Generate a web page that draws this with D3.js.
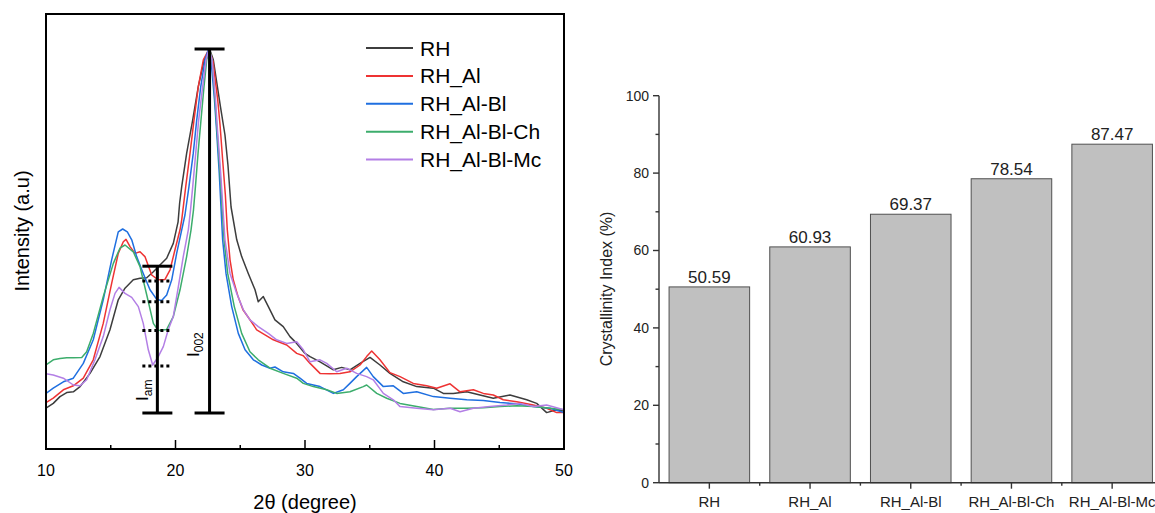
<!DOCTYPE html>
<html><head><meta charset="utf-8">
<script src="https://cdn.jsdelivr.net/npm/d3@7"></script>
<style>body{margin:0;background:#fff} svg{display:block} text{font-family:"Liberation Sans",Arial,Helvetica,sans-serif}</style>
</head><body><svg id="c" width="1155" height="513"></svg>
<script>
// ---------- XRD data (2θ, intensity a.u.) ----------
const seriesNames = ["RH","RH_Al","RH_Al-Bl","RH_Al-Bl-Ch","RH_Al-Bl-Mc"];
const seriesColors = ["#3d3d3d","#ee3333","#1f6fe0","#3cad6c","#b37fe5"];

const rh = [[10.00,10.2],[10.56,11.4],[11.08,13.1],[11.60,14.1],[12.11,14.3],[12.63,15.6],[13.40,18.9],[14.17,23.1],[14.94,29.8],[15.58,37.3],[16.10,40.2],[16.74,42.3],[17.26,42.7],[17.78,42.8],[18.29,44.3],[18.80,46.0],[19.32,47.7],[19.83,51.4],[20.20,56.8],[20.32,61.5],[20.48,65.6],[20.86,73.9],[21.33,82.3],[21.76,90.6],[22.22,97.3],[22.63,100],[22.92,97.3],[23.47,85.6],[23.82,78.5],[24.05,71.0],[24.29,60.5],[24.73,52.3],[25.11,48.1],[25.62,43.9],[26.14,39.8],[26.39,36.8],[26.78,38.1],[27.17,35.6],[27.68,32.3],[28.32,30.6],[28.84,28.1],[29.36,26.4],[30.00,23.9],[30.39,23.1],[31.16,21.8],[32.19,19.8],[32.83,20.4],[33.47,19.8],[34.25,21.4],[35.02,22.9],[35.79,21.0],[36.56,18.9],[37.59,16.8],[38.63,15.6],[39.91,15.2],[40.68,13.9],[41.45,13.9],[42.49,14.3],[43.51,13.5],[44.54,12.7],[45.83,13.5],[47.12,12.3],[47.89,11.4],[48.66,9.1],[49.44,9.8],[50.00,9.5]];

const rhAl = [[10.00,11.6],[10.56,12.7],[11.34,14.8],[12.11,15.8],[12.88,17.7],[13.65,22.3],[14.42,31.4],[15.07,41.4],[15.58,48.9],[15.97,51.8],[16.18,52.4],[16.49,50.6],[16.87,48.9],[17.26,49.3],[17.64,48.1],[18.16,43.5],[18.67,42.3],[19.19,42.4],[19.58,44.8],[19.96,49.8],[20.35,54.8],[20.48,57.3],[20.79,65.6],[21.12,73.9],[21.43,82.3],[21.76,90.6],[22.15,97.3],[22.59,100],[22.90,96.8],[23.26,87.3],[23.44,81.0],[23.64,72.3],[23.85,63.5],[24.00,54.8],[24.21,47.3],[24.46,42.3],[24.83,38.1],[25.21,34.8],[25.75,32.3],[26.27,29.8],[27.04,28.3],[27.55,27.3],[28.59,26.0],[29.36,23.9],[29.87,23.3],[30.39,21.4],[31.16,18.9],[31.93,18.8],[32.70,18.9],[33.47,19.3],[34.25,21.0],[34.76,23.1],[35.15,24.5],[35.79,22.3],[36.56,19.1],[37.34,18.1],[38.36,16.4],[39.40,15.8],[40.17,15.2],[41.20,16.3],[41.97,14.3],[43.00,14.8],[43.77,13.9],[44.54,13.5],[45.31,12.3],[46.35,11.8],[47.63,11.0],[48.66,10.2],[49.44,9.1],[50.00,9.1]];

const rhAlBl = [[10.00,13.9],[10.56,15.2],[11.34,16.8],[12.11,17.7],[12.88,21.4],[13.65,27.3],[14.42,37.3],[15.07,47.3],[15.58,54.3],[15.92,55.0],[16.28,54.3],[16.62,52.3],[17.00,48.1],[17.51,43.9],[18.03,39.8],[18.55,37.4],[18.93,37.1],[19.32,38.5],[19.71,42.3],[20.09,48.9],[20.48,54.8],[20.73,58.5],[21.04,65.6],[21.37,73.9],[21.64,82.3],[21.95,90.6],[22.28,97.3],[22.55,100],[22.74,97.3],[23.01,87.3],[23.17,79.8],[23.38,68.9],[23.64,52.3],[23.90,43.9],[24.34,35.6],[24.85,28.9],[25.37,24.8],[26.01,22.3],[26.66,21.0],[27.30,20.2],[27.68,20.5],[28.32,19.3],[29.10,18.9],[29.61,17.7],[30.13,16.4],[31.16,15.6],[32.19,13.9],[32.96,14.8],[33.47,16.4],[33.99,18.1],[34.76,20.4],[35.27,18.1],[36.05,15.6],[36.82,15.8],[37.59,13.9],[38.63,14.3],[39.91,13.1],[41.20,12.7],[42.49,12.3],[43.77,12.1],[45.06,11.6],[46.35,11.3],[47.63,10.6],[48.92,10.2],[50.00,9.1]];

const rhAlBlCh = [[10.00,21.0],[10.56,22.3],[11.08,22.6],[11.60,22.8],[12.11,22.8],[12.76,22.9],[13.14,24.3],[13.65,28.9],[14.42,38.1],[15.20,46.4],[15.71,50.2],[16.10,51.0],[16.74,49.3],[17.26,45.6],[17.78,38.5],[18.29,31.4],[18.67,29.6],[19.32,29.9],[19.83,33.1],[20.35,39.8],[20.86,48.1],[21.20,54.8],[21.39,59.8],[21.54,65.6],[21.74,73.9],[21.97,82.3],[22.20,90.6],[22.41,97.3],[22.63,100],[22.82,97.3],[23.05,87.3],[23.18,81.0],[23.44,68.9],[23.75,52.3],[24.03,43.9],[24.54,35.6],[25.11,28.9],[25.75,24.3],[26.39,22.3],[27.30,20.2],[28.32,18.9],[29.36,17.7],[29.87,16.4],[30.64,15.6],[31.68,14.8],[32.45,13.9],[33.47,14.3],[34.50,15.6],[34.76,16.0],[35.54,13.9],[36.31,12.7],[37.34,11.4],[38.63,10.6],[39.91,9.9],[41.20,10.2],[42.49,10.2],[43.77,10.3],[45.06,10.6],[46.35,10.8],[47.63,10.6],[48.92,10.2],[50.00,9.8]];

const rhAlBlMc = [[10.00,18.8],[10.56,18.5],[11.34,17.7],[12.11,16.0],[12.63,15.8],[13.14,17.3],[13.78,22.3],[14.42,28.1],[14.94,34.8],[15.33,38.9],[15.64,40.4],[16.10,38.9],[16.62,37.9],[17.13,35.6],[17.51,31.4],[17.90,24.8],[18.24,21.0],[18.67,23.1],[19.06,25.6],[19.44,29.8],[19.83,33.1],[20.22,40.6],[20.60,48.1],[20.99,54.8],[21.16,59.8],[21.33,65.6],[21.56,73.9],[21.79,82.3],[22.10,90.6],[22.36,97.3],[22.59,100],[22.82,97.3],[23.09,87.3],[23.24,79.8],[23.49,68.9],[23.82,52.3],[24.21,43.9],[24.73,38.9],[25.24,34.8],[25.75,32.3],[26.39,30.6],[27.17,28.9],[27.81,27.3],[28.59,26.4],[29.36,26.8],[29.87,24.8],[30.39,21.8],[31.16,22.3],[31.68,21.4],[32.45,19.3],[33.22,20.2],[33.99,18.9],[34.76,18.1],[35.27,17.3],[36.05,13.9],[36.82,12.3],[37.34,10.6],[38.63,10.2],[39.91,9.8],[41.20,10.2],[41.97,9.3],[43.00,10.2],[44.29,10.6],[45.58,11.0],[46.60,11.4],[47.63,10.6],[48.66,11.0],[50.00,9.8]];

const xrdSeries = [rh, rhAl, rhAlBl, rhAlBlCh, rhAlBlMc];
const xMajorTicks = [10,20,30,40,50];
const xMinorTicks = [15,25,35,45];
// annotation levels (a.u.)
const i002Pos = 22.63, i002Top = 100, i002Bottom = 9;
const iamPos = 18.6, iamTop = 45.7, iamLevels = [42.0, 36.8, 29.6, 20.75];

// ---------- Crystallinity data ----------
const barCategories = ["RH","RH_Al","RH_Al-Bl","RH_Al-Bl-Ch","RH_Al-Bl-Mc"];
const barValues = [50.59, 60.93, 69.37, 78.54, 87.47];
const barMajorTicks = [0,20,40,60,80,100];
const barMinorTicks = [10,30,50,70,90];

const svg = d3.select("#c");

// ===== Left panel =====
const L = {x0:46, x1:564, y0:14, y1:449};
const xs = d3.scaleLinear().domain([10,50]).range([L.x0, L.x1]);
const ys = d3.scaleLinear().domain([0,108.75]).range([L.y1, L.y0]);

svg.append("defs").append("clipPath").attr("id","clipL")
  .append("rect").attr("x",L.x0).attr("y",L.y0).attr("width",L.x1-L.x0).attr("height",L.y1-L.y0);

const line = d3.line().x(d=>xs(d[0])).y(d=>ys(d[1]));
const gC = svg.append("g").attr("clip-path","url(#clipL)");
xrdSeries.forEach((s,i)=>{
  gC.append("path").attr("d",line(s)).attr("fill","none")
    .attr("stroke",seriesColors[i]).attr("stroke-width",1.5).attr("stroke-linejoin","round");
});

// frame
svg.append("rect").attr("x",L.x0).attr("y",L.y0).attr("width",L.x1-L.x0).attr("height",L.y1-L.y0)
  .attr("fill","none").attr("stroke","#000").attr("stroke-width",2);

// ticks inward
const gt = svg.append("g");
xMajorTicks.forEach(t=>{
  gt.append("line").attr("x1",xs(t)).attr("x2",xs(t)).attr("y1",L.y1).attr("y2",L.y1-9).attr("stroke","#000").attr("stroke-width",1.5);
  gt.append("text").attr("x",xs(t)).attr("y",476).attr("text-anchor","middle").attr("font-size",16).attr("fill","#000").text(t);
});
xMinorTicks.forEach(t=>{
  gt.append("line").attr("x1",xs(t)).attr("x2",xs(t)).attr("y1",L.y1).attr("y2",L.y1-4).attr("stroke","#000").attr("stroke-width",1.5);
});
svg.append("text").attr("x",305).attr("y",509).attr("text-anchor","middle").attr("font-size",20).attr("fill","#000").text("2θ (degree)");
svg.append("text").attr("transform","translate(29,231) rotate(-90)").attr("text-anchor","middle").attr("font-size",20).attr("fill","#000").text("Intensity (a.u)");

// legend
seriesNames.forEach((n,i)=>{
  const y = 48 + i*27.9;
  svg.append("line").attr("x1",366).attr("x2",413).attr("y1",y).attr("y2",y).attr("stroke",seriesColors[i]).attr("stroke-width",2);
  svg.append("text").attr("x",420).attr("y",y).attr("dy","0.36em").attr("font-size",21).attr("fill","#000").text(n);
});

// annotations
const ga = svg.append("g").attr("stroke","#000").attr("stroke-width",3);
ga.append("line").attr("x1",xs(i002Pos)).attr("x2",xs(i002Pos)).attr("y1",ys(i002Top)).attr("y2",ys(i002Bottom));
ga.append("line").attr("x1",xs(i002Pos)-15).attr("x2",xs(i002Pos)+15).attr("y1",ys(i002Top)).attr("y2",ys(i002Top));
ga.append("line").attr("x1",xs(i002Pos)-15).attr("x2",xs(i002Pos)+15).attr("y1",ys(i002Bottom)).attr("y2",ys(i002Bottom));
ga.append("line").attr("x1",xs(iamPos)).attr("x2",xs(iamPos)).attr("y1",ys(iamTop)).attr("y2",ys(i002Bottom));
ga.append("line").attr("x1",xs(iamPos)-15).attr("x2",xs(iamPos)+15).attr("y1",ys(iamTop)).attr("y2",ys(iamTop));
ga.append("line").attr("x1",xs(iamPos)-15).attr("x2",xs(iamPos)+15).attr("y1",ys(i002Bottom)).attr("y2",ys(i002Bottom));
iamLevels.forEach(v=>{
  ga.append("line").attr("x1",xs(iamPos)-15).attr("x2",xs(iamPos)+15).attr("y1",ys(v)).attr("y2",ys(v)).attr("stroke-dasharray","3,3");
});
const t1 = svg.append("text").attr("transform",`translate(${xs(iamPos)-9},401) rotate(-90)`).attr("font-size",17).attr("fill","#000");
t1.append("tspan").text("I");
t1.append("tspan").attr("font-size",12).attr("dy",4).text("am");
const t2 = svg.append("text").attr("transform",`translate(${xs(i002Pos)-11},357) rotate(-90)`).attr("font-size",17).attr("fill","#000");
t2.append("tspan").text("I");
t2.append("tspan").attr("font-size",12).attr("dy",4).text("002");

// ===== Right panel =====
const R = {x0:659, x1:1162.5, y0:95.7, y1:482.7};
const bx = d3.scaleBand().domain(barCategories).range([R.x0,R.x1]).paddingInner(0.2).paddingOuter(0.1);
const by = d3.scaleLinear().domain([0,100]).range([R.y1,R.y0]);
const axisCol = "#333";

barValues.forEach((v,i)=>{
  const c = barCategories[i];
  svg.append("rect").attr("x",bx(c)).attr("y",by(v)).attr("width",bx.bandwidth()).attr("height",by(0)-by(v))
    .attr("fill","#c0c0c0").attr("stroke","#505050").attr("stroke-width",1);
  svg.append("text").attr("x",bx(c)+bx.bandwidth()/2).attr("y",by(v)-4).attr("text-anchor","middle")
    .attr("font-size",17).attr("fill","#222").text(v.toFixed(2));
});

// y axis
svg.append("line").attr("x1",R.x0).attr("x2",R.x0).attr("y1",by(0)).attr("y2",by(100)).attr("stroke",axisCol).attr("stroke-width",1.4);
barMajorTicks.forEach(t=>{
  svg.append("line").attr("x1",R.x0-6).attr("x2",R.x0).attr("y1",by(t)).attr("y2",by(t)).attr("stroke",axisCol).attr("stroke-width",1.4);
  svg.append("text").attr("x",R.x0-10).attr("y",by(t)).attr("dy","0.35em").attr("text-anchor","end").attr("font-size",14).attr("fill","#222").text(t);
});
barMinorTicks.forEach(t=>{
  svg.append("line").attr("x1",R.x0-3.5).attr("x2",R.x0).attr("y1",by(t)).attr("y2",by(t)).attr("stroke",axisCol).attr("stroke-width",1.4);
});
svg.append("text").attr("transform","translate(612,289) rotate(-90)").attr("text-anchor","middle").attr("font-size",16).attr("fill","#222").text("Crystallinity Index (%)");

// x axis
svg.append("line").attr("x1",R.x0).attr("x2",1155).attr("y1",by(0)).attr("y2",by(0)).attr("stroke",axisCol).attr("stroke-width",1.4);
barCategories.forEach((c,i)=>{
  const cx = bx(c)+bx.bandwidth()/2;
  svg.append("line").attr("x1",cx).attr("x2",cx).attr("y1",by(0)).attr("y2",by(0)+6).attr("stroke",axisCol).attr("stroke-width",1.4);
  const bxr = cx + bx.step()/2;
  svg.append("line").attr("x1",bxr).attr("x2",bxr).attr("y1",by(0)).attr("y2",by(0)+3).attr("stroke",axisCol).attr("stroke-width",1.4);
  svg.append("text").attr("x",cx).attr("y",507).attr("text-anchor","middle").attr("font-size",15).attr("fill","#222").text(c);
});
</script></body></html>
